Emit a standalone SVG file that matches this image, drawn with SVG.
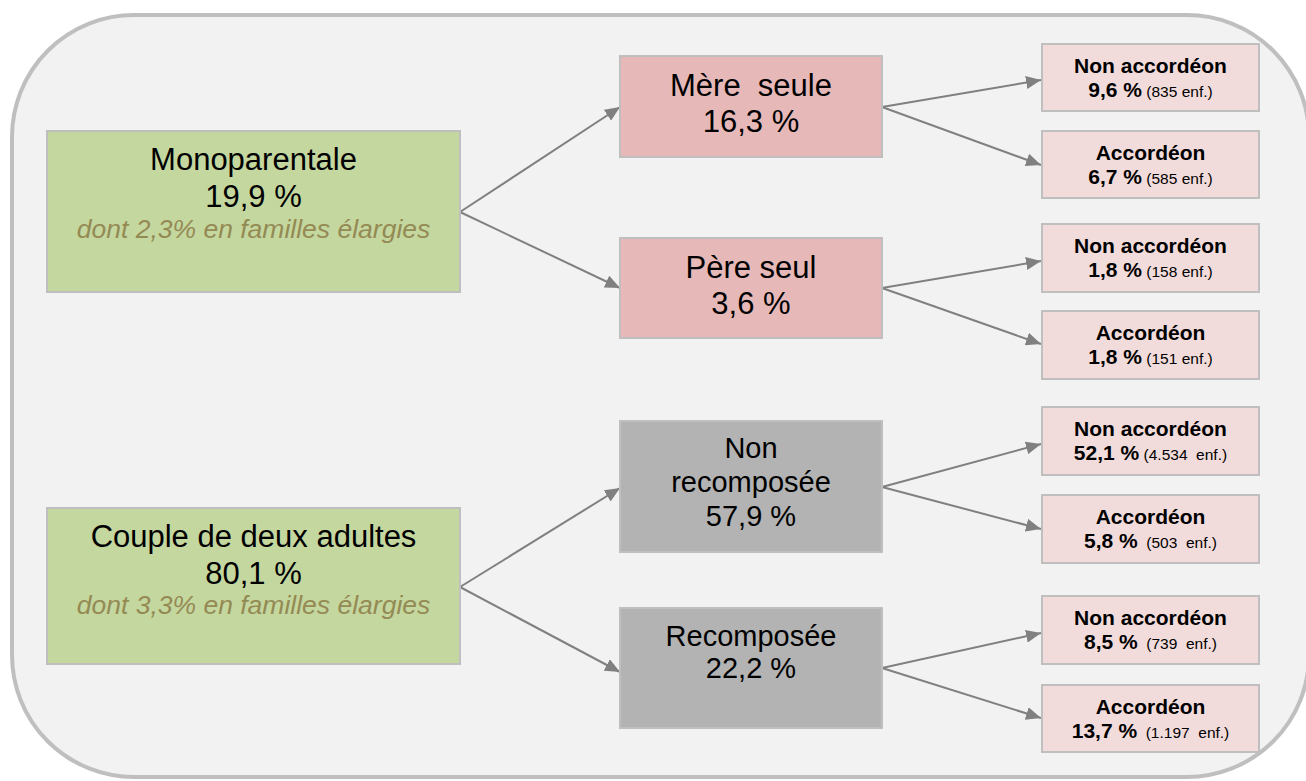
<svg xmlns="http://www.w3.org/2000/svg" width="1306" height="781" viewBox="0 0 1306 781">
<style>
text{font-family:"Liberation Sans",Arial,sans-serif;fill:#000;text-anchor:middle}
.box{stroke:#bfbfbf;stroke-width:2}
.green{fill:#c4d79f}
.pink{fill:#e6b9b8}
.grey{fill:#b3b3b3}
.light{fill:#f2dcdb}
.t31{font-size:31px}
.t29{font-size:29px}
.it{font-size:26.5px;font-style:italic;fill:#948a54}
.b{font-size:21px;font-weight:bold}
.s{font-size:15.5px;font-weight:normal}
.conn line{stroke:#808080;stroke-width:2;fill:none;marker-end:url(#arr)}
</style>
<defs>
<marker id="arr" markerUnits="userSpaceOnUse" markerWidth="16" markerHeight="13" refX="15" refY="6.5" orient="auto">
<path d="M0,0 L15,6.5 L0,13 z" fill="#808080"/>
</marker>
</defs>
<rect x="12" y="15" width="1297" height="762" rx="122" ry="122" fill="#f2f2f2" stroke="#bfbfbf" stroke-width="4"/>
<g class="conn">
<line x1="460" y1="212" x2="620" y2="107"/>
<line x1="460" y1="212" x2="620" y2="288"/>
<line x1="460" y1="587" x2="620" y2="488"/>
<line x1="460" y1="587" x2="620" y2="672"/>
<line x1="882" y1="107" x2="1041" y2="80"/>
<line x1="882" y1="107" x2="1041" y2="165"/>
<line x1="882" y1="288" x2="1041" y2="261"/>
<line x1="882" y1="288" x2="1041" y2="344"/>
<line x1="882" y1="487" x2="1041" y2="444"/>
<line x1="882" y1="487" x2="1041" y2="529"/>
<line x1="882" y1="668" x2="1041" y2="633"/>
<line x1="882" y1="668" x2="1041" y2="718"/>
</g>
<g id="monoparentale">
<rect class="box green" x="47" y="131" width="413" height="161"/>
<text class="t31" x="253.5" y="170">Monoparentale</text>
<text class="t31" x="253.5" y="207">19,9 %</text>
<text class="it" x="253.5" y="238">dont 2,3% en familles élargies</text>
</g>
<g id="couple">
<rect class="box green" x="47" y="508" width="413" height="156"/>
<text class="t31" x="253.5" y="547">Couple de deux adultes</text>
<text class="t31" x="253.5" y="584">80,1 %</text>
<text class="it" x="253.5" y="614">dont 3,3% en familles élargies</text>
</g>
<g id="mere-seule">
<rect class="box pink" x="620" y="56" width="262" height="101"/>
<text class="t31" x="751" y="96" xml:space="preserve">Mère  seule</text>
<text class="t31" x="751" y="132">16,3 %</text>
</g>
<g id="pere-seul">
<rect class="box pink" x="620" y="238" width="262" height="100"/>
<text class="t31" x="751" y="278">Père seul</text>
<text class="t31" x="751" y="314">3,6 %</text>
</g>
<g id="non-recomposee">
<rect class="box grey" x="620" y="421" width="262" height="131"/>
<text class="t29" x="751" y="458">Non</text>
<text class="t29" x="751" y="492">recomposée</text>
<text class="t29" x="751" y="526">57,9 %</text>
</g>
<g id="recomposee">
<rect class="box grey" x="620" y="608" width="262" height="120"/>
<text class="t29" x="751" y="646">Recomposée</text>
<text class="t29" x="751" y="678">22,2 %</text>
</g>
<g id="mere-non-acc">
<rect class="box light" x="1042" y="44" width="217" height="67"/>
<text class="b" x="1150.5" y="73">Non accordéon</text>
<text class="b" x="1150.5" y="97" xml:space="preserve">9,6 %<tspan class="s"> (835 enf.)</tspan></text>
</g>
<g id="mere-acc">
<rect class="box light" x="1042" y="131" width="217" height="67"/>
<text class="b" x="1150.5" y="160">Accordéon</text>
<text class="b" x="1150.5" y="184" xml:space="preserve">6,7 %<tspan class="s"> (585 enf.)</tspan></text>
</g>
<g id="pere-non-acc">
<rect class="box light" x="1042" y="224" width="217" height="68"/>
<text class="b" x="1150.5" y="253">Non accordéon</text>
<text class="b" x="1150.5" y="277" xml:space="preserve">1,8 %<tspan class="s"> (158 enf.)</tspan></text>
</g>
<g id="pere-acc">
<rect class="box light" x="1042" y="311" width="217" height="68"/>
<text class="b" x="1150.5" y="340">Accordéon</text>
<text class="b" x="1150.5" y="364" xml:space="preserve">1,8 %<tspan class="s"> (151 enf.)</tspan></text>
</g>
<g id="nonrec-non-acc">
<rect class="box light" x="1042" y="407" width="217" height="68"/>
<text class="b" x="1150.5" y="436">Non accordéon</text>
<text class="b" x="1150.5" y="460" xml:space="preserve">52,1 %<tspan class="s"> (4.534  enf.)</tspan></text>
</g>
<g id="nonrec-acc">
<rect class="box light" x="1042" y="495" width="217" height="68"/>
<text class="b" x="1150.5" y="524">Accordéon</text>
<text class="b" x="1150.5" y="548" xml:space="preserve">5,8 %<tspan class="s">  (503  enf.)</tspan></text>
</g>
<g id="rec-non-acc">
<rect class="box light" x="1042" y="596" width="217" height="68"/>
<text class="b" x="1150.5" y="625">Non accordéon</text>
<text class="b" x="1150.5" y="649" xml:space="preserve">8,5 %<tspan class="s">  (739  enf.)</tspan></text>
</g>
<g id="rec-acc">
<rect class="box light" x="1042" y="685" width="217" height="67"/>
<text class="b" x="1150.5" y="714">Accordéon</text>
<text class="b" x="1150.5" y="738" xml:space="preserve">13,7 %<tspan class="s">  (1.197  enf.)</tspan></text>
</g>
</svg>
